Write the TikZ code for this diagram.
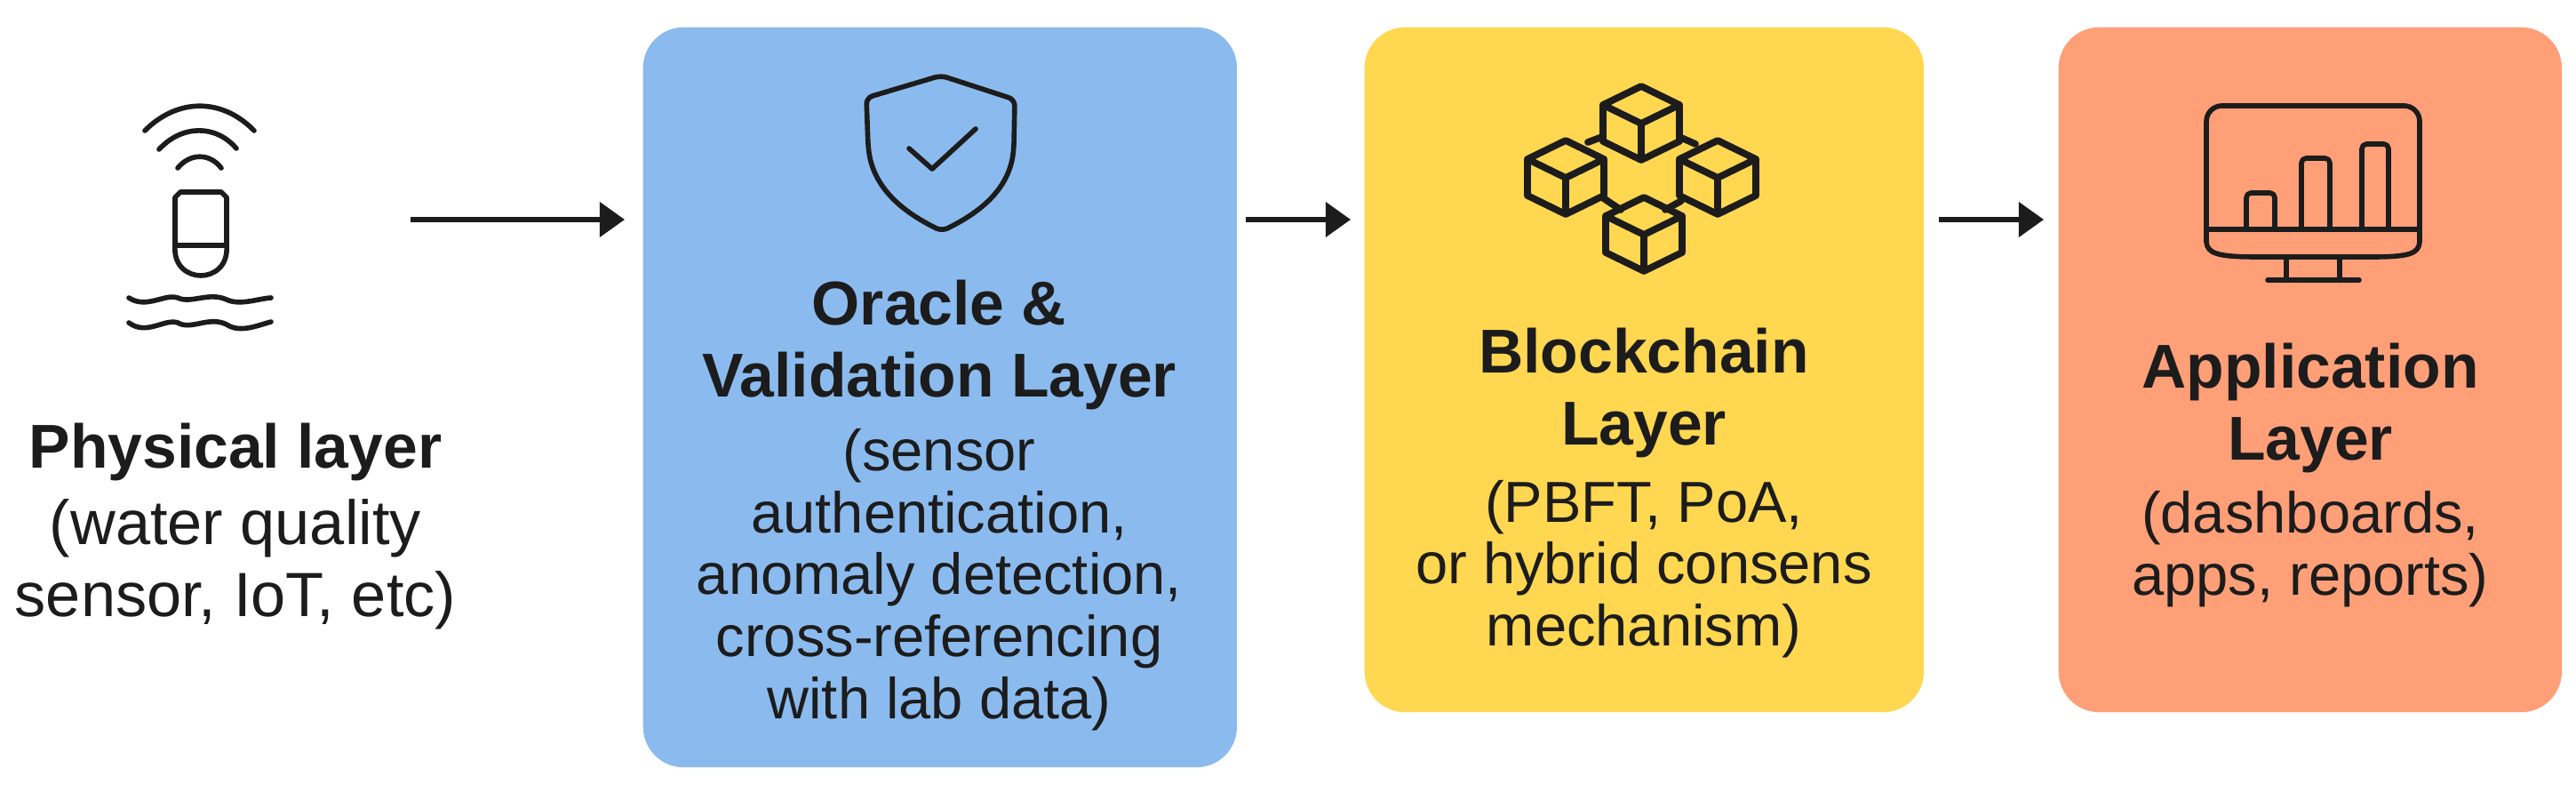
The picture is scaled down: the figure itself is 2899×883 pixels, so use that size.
\documentclass[tikz,border=0pt]{standalone}
\usepackage{fontspec}
\setmainfont{Liberation Sans}
\usepackage{xcolor}
\usetikzlibrary{arrows.meta, positioning}
\definecolor{OracleBlue}{RGB}{139,187,238}
\definecolor{ChainYellow}{RGB}{255,215,80}
\definecolor{AppOrange}{RGB}{255,159,120}
\definecolor{InkDark}{RGB}{28,28,28}
\tikzset{
  layerB/.style={rectangle, rounded corners=13pt, draw=none, anchor=north west,
                 inner sep=0pt},
  blueL/.style={layerB, fill=OracleBlue, minimum width=6.68cm, minimum height=8.32cm},
  yellowL/.style={layerB, fill=ChainYellow, minimum width=6.29cm, minimum height=7.70cm},
  orangeL/.style={layerB, fill=AppOrange, minimum width=5.66cm, minimum height=7.70cm},
  titleT/.style={align=center, inner sep=0pt, text=InkDark,
                 font=\fontsize{19.8}{23.3}\selectfont\bfseries},
  descT/.style={align=center, inner sep=0pt, text=InkDark,
                font=\fontsize{18.5}{19.8}\selectfont},
  physD/.style={descT, font=\fontsize{20}{23}\selectfont},
  flow/.style={draw=InkDark, line width=1.5pt, -{Triangle[length=8pt,width=11pt]}},
  icon/.style={draw=InkDark, line width=1.6pt, line join=round, line cap=round},
  pics/blockcube/.style={code={
    \draw[icon, line width=2.2pt] (0,0) -- (43,21) -- (0,42) -- (-43,21) -- cycle
      (-43,21) -- (-43,62) -- (0,83) -- (43,62) -- (43,21) (0,42) -- (0,83);
  }},
}
\begin{document}
\begin{tikzpicture}[x=0.01cm, y=-0.01cm]
    \useasboundingbox (0,0) rectangle (2899,883);

    %% layer boxes
    \node[blueL]   (oracle) at (723,30)  {};
    \node[yellowL] (chain)  at (1535,30) {};
    \node[orangeL] (app)    at (2316,30) {};

    %% arrows
    \coordinate (sensorOut) at (462,247);
    \draw[flow, shorten >=2mm] (sensorOut) -- (oracle.west |- sensorOut);
    \draw[flow, shorten <=0.9mm, shorten >=1.5mm]
          (oracle.east |- sensorOut) -- (chain.west |- sensorOut);
    \draw[flow, shorten <=1.6mm, shorten >=1.6mm]
          (chain.east |- sensorOut) -- (app.west |- sensorOut);

    %% sensor icon
    \draw[icon] (163,147) .. controls (200,110) and (250,110) .. (286,147);
    \draw[icon] (179,168) .. controls (205,140) and (243,140) .. (266,167);
    \draw[icon] (200,189) .. controls (214,172) and (236,172) .. (249,189);
    \draw[icon] (197,276) -- (197,222) -- (203,216) -- (249,216) -- (255,222) -- (255,276)
                .. controls (257,300) and (240,310) .. (226,310)
                .. controls (212,310) and (195,300) .. (197,276) -- cycle
                (197,276) -- (255,276);
    \draw[icon] (145,335) .. controls (165,348) and (185,330) .. (200,335)
                .. controls (215,342) and (235,328) .. (255,337)
                .. controls (270,344) and (290,336) .. (305,335);
    \draw[icon] (145,363) .. controls (165,378) and (185,358) .. (200,363)
                .. controls (215,372) and (235,355) .. (255,365)
                .. controls (270,375) and (290,366) .. (305,362);

    %% shield icon
    \draw[icon, rounded corners=2pt] (1059,85) -- (975,110) -- (977,165)
                .. controls (985,220) and (1030,245) .. (1060,260)
                .. controls (1090,245) and (1135,220) .. (1141,165)
                -- (1142,112) -- cycle;
    \draw[icon] (1023,167) -- (1049,190) -- (1098,145);

    %% block icon
    \draw[icon, line width=2.2pt] (1787,160) -- (1803,154) (1890,154) -- (1908,162)
                (1803,222) -- (1824,236) (1874,236) -- (1892,226);
    \pic at (1847,97)  {blockcube};
    \pic at (1762,158) {blockcube};
    \pic at (1933,158) {blockcube};
    \pic at (1850,222) {blockcube};

    %% monitor icon
    \draw[icon, rounded corners=5pt] (2483,258) -- (2483,119) -- (2723,119) -- (2723,258);
    \draw[icon] (2483,258) -- (2483,272)
                .. controls (2484,285) and (2495,289) .. (2540,289)
                -- (2670,289) .. controls (2712,289) and (2722,285) .. (2723,272)
                -- (2723,258) -- cycle;
    \draw[icon, rounded corners=1.5pt] (2528,258) -- (2528,217) -- (2560,217) -- (2560,258);
    \draw[icon, rounded corners=1.5pt] (2590,258) -- (2590,178) -- (2622,178) -- (2622,258);
    \draw[icon, rounded corners=1.5pt] (2658,258) -- (2658,162) -- (2688,162) -- (2688,258);
    \draw[icon] (2573,290) -- (2573,315) (2633,290) -- (2633,315) (2552,315) -- (2655,315);

    %% labels
    \node[titleT] (physT) at (265,509) {Physical layer};
    \node[physD]  (physL) at (265,635) {(water quality\\sensor, IoT, etc)};
    \node[titleT] (oracleT) at (1057,388) {Oracle \&\\Validation Layer};
    \node[descT]  (oracleD) at (1057,652) {(sensor\\authentication,\\anomaly detection,\\cross-referencing\\with lab data)};
    \node[titleT] (chainT) at (1850,442) {Blockchain\\Layer};
    \node[descT]  (chainD) at (1850,640) {(PBFT, PoA,\\or hybrid consens\\mechanism)};
    \node[titleT] (appT) at (2600,459) {Application\\Layer};
    \node[descT]  (appD) at (2600,618) {(dashboards,\\apps, reports)};
  \end{tikzpicture}
\end{document}
